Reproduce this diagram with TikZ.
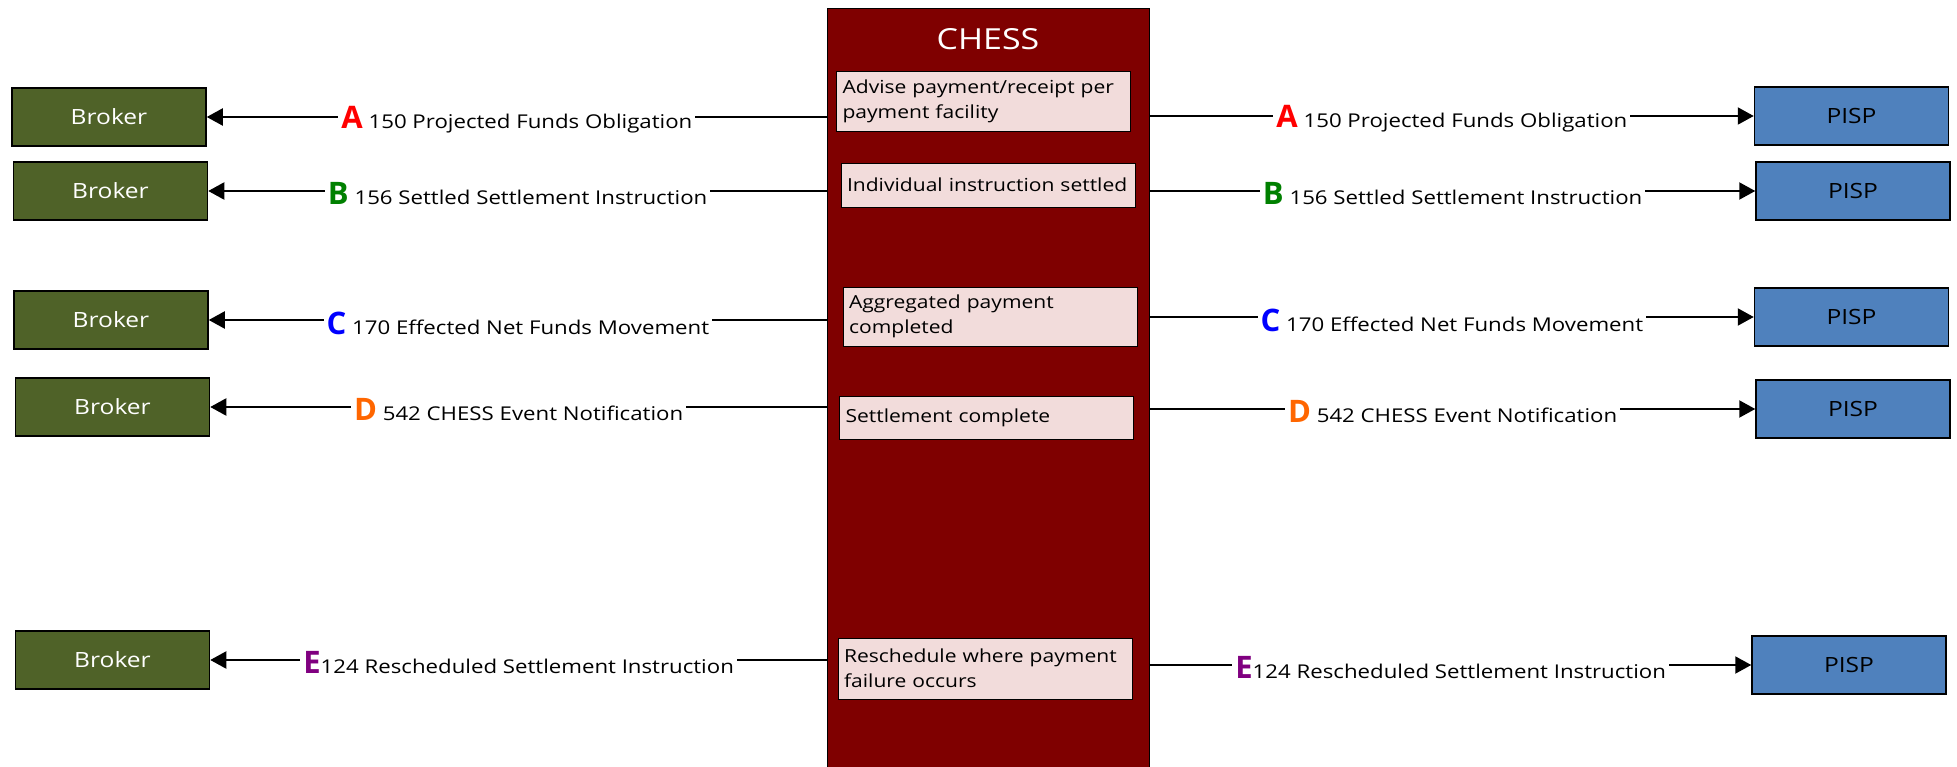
\documentclass[tikz,border=0pt]{standalone}
\usepackage{fontspec}
\setmainfont{Open Sans}[FakeStretch=1.17]
\newfontfamily\letrafont{Open Sans}
\usetikzlibrary{arrows.meta}

\definecolor{brokergreen}{HTML}{4F6228}
\definecolor{pispblue}{HTML}{4F81BD}
\definecolor{chessred}{HTML}{7F0000}
\definecolor{pasopink}{HTML}{F2DCDB}
\definecolor{letraB}{HTML}{008000}
\definecolor{letraD}{HTML}{FF6600}
\definecolor{letraE}{HTML}{800080}

\newcommand{\letra}[2]{\textcolor{#1}{\letrafont\fontsize{31}{31}\selectfont\bfseries #2}}

\begin{document}
\begin{tikzpicture}[x=1pt, y=-1pt,
  broker/.style={draw, line width=1.5pt, fill=brokergreen, text=white,
                 minimum width=194pt, minimum height=58pt, font=\fontsize{21}{21}\selectfont},
  pisp/.style={broker, fill=pispblue, text=black},
  sistema/.style={draw, line width=1pt, fill=chessred, minimum width=322pt,
                  minimum height=762pt, inner sep=0pt},
  paso/.style={draw, fill=pasopink, align=left, text width=282pt, inner xsep=6pt,
               inner ysep=0pt, font=\fontsize{18}{25}\selectfont},
  etiqueta/.style={fill=white, inner sep=3pt, yshift=-3pt, font=\fontsize{19}{21}\selectfont},
  flecha/.style={-{Triangle[length=16pt,width=17pt]}, line width=2pt}
]
  \useasboundingbox (0,0) rectangle (1957,767);

  % CHESS column
  \node[sistema, anchor=north west] (chess) at (827,8) {};
  \node[text=white, font=\fontsize{29}{29}\selectfont] (titulo) at (988,39) {CHESS};
  \node[paso, minimum height=60pt] (pasoA) at (983.5,101) {Advise payment/receipt per\\payment facility};
  \node[paso, minimum height=44pt] (pasoB) at (988,185) {Individual instruction settled};
  \node[paso, minimum height=59pt] (pasoC) at (990,316.5) {Aggregated payment\\completed};
  \node[paso, minimum height=43pt] (pasoD) at (986.5,417.5) {Settlement complete};
  \node[paso, minimum height=61pt] (pasoE) at (985,668.5) {Reschedule where payment\\failure occurs};

  % brokers
  \node[broker] (broA) at (109,117) {Broker};
  \node[broker] (broB) at (110.5,191) {Broker};
  \node[broker] (broC) at (111,320) {Broker};
  \node[broker] (broD) at (112.5,407) {Broker};
  \node[broker] (broE) at (112.5,660) {Broker};

  % PISPs
  \node[pisp] (pispA) at (1851.5,116) {PISP};
  \node[pisp] (pispB) at (1853,191) {PISP};
  \node[pisp] (pispC) at (1851.5,317) {PISP};
  \node[pisp] (pispD) at (1853,409) {PISP};
  \node[pisp] (pispE) at (1849,665) {PISP};

  % messages
  \draw[flecha] (chess.west |- broA) -- node[etiqueta] {\letra{red}{A} 150 Projected Funds Obligation} (broA.east);
  \draw[flecha] (chess.west |- broB) -- node[etiqueta] {\letra{letraB}{B} 156 Settled Settlement Instruction} (broB.east);
  \draw[flecha] (chess.west |- broC) -- node[etiqueta] {\letra{blue}{C} 170 Effected Net Funds Movement} (broC.east);
  \draw[flecha] (chess.west |- broD) -- node[etiqueta] {\letra{letraD}{D} 542 CHESS Event Notification} (broD.east);
  \draw[flecha] (chess.west |- broE) -- node[etiqueta] {\letra{letraE}{E}124 Rescheduled Settlement Instruction} (broE.east);

  \draw[flecha] (chess.east |- pispA) -- node[etiqueta] {\letra{red}{A} 150 Projected Funds Obligation} (pispA.west);
  \draw[flecha] (chess.east |- pispB) -- node[etiqueta] {\letra{letraB}{B} 156 Settled Settlement Instruction} (pispB.west);
  \draw[flecha] (chess.east |- pispC) -- node[etiqueta] {\letra{blue}{C} 170 Effected Net Funds Movement} (pispC.west);
  \draw[flecha] (chess.east |- pispD) -- node[etiqueta] {\letra{letraD}{D} 542 CHESS Event Notification} (pispD.west);
  \draw[flecha] (chess.east |- pispE) -- node[etiqueta] {\letra{letraE}{E}124 Rescheduled Settlement Instruction} (pispE.west);
\end{tikzpicture}
\end{document}
